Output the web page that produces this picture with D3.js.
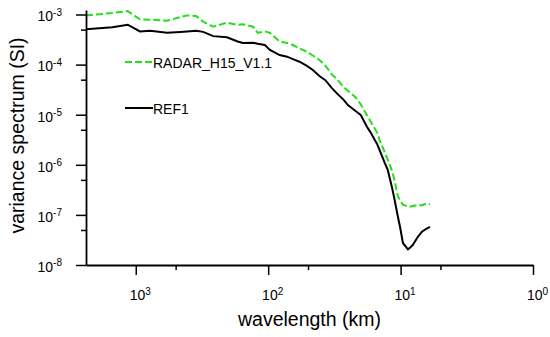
<!DOCTYPE html>
<html>
<head>
<meta charset="utf-8">
<script src="https://cdn.jsdelivr.net/npm/d3@7"></script>
<style>
  body { margin: 0; background: #fff; }
  svg { display: block; font-family: "Liberation Sans", Arial, sans-serif; }
</style>
</head>
<body>
<div id="chart"><svg width="550" height="337"></svg></div>
<script>
// wavelength grid (km), shared by both spectra
var wavelengths = [2376, 1500, 1150, 930, 780, 580, 460, 410, 350, 310, 260, 205, 170, 155, 130, 120, 106, 97, 82, 72,
    65, 58, 51, 46, 41, 37, 33, 30, 27, 25, 22, 20, 18, 17, 15, 14.4, 13.2, 12.5, 11.6, 11.1,
    10.5, 10.1, 9.6, 8.8, 8.5, 8.1, 7.4, 6.9, 6.6, 6.3, 6.0]

var radarValues = [9.6e-4, 1.07e-3, 1.17e-3, 8.0e-4, 7.9e-4, 7.5e-4, 8.9e-4, 9.6e-4, 9.3e-4, 7.2e-4, 5.7e-4, 6.9e-4, 6.2e-4, 6.4e-4, 5.7e-4, 4.3e-4, 4.6e-4, 4.3e-4, 2.9e-4, 2.7e-4,
    2.46e-4, 2.1e-4, 1.81e-4, 1.52e-4, 1.24e-4, 9.5e-5, 6.3e-5, 5.0e-5, 3.6e-5, 3.0e-5, 2.25e-5, 1.62e-5, 9.9e-6, 7.7e-6, 4.3e-6, 3.1e-6, 1.82e-6, 1.27e-6, 7.5e-7, 4.8e-7,
    2.4e-7, 1.95e-7, 1.6e-7, 1.48e-7, 1.46e-7, 1.5e-7, 1.58e-7, 1.55e-7, 1.65e-7, 1.6e-7, 1.65e-7]

var refValues = [5.07e-4, 5.55e-4, 6.25e-4, 4.6e-4, 4.75e-4, 4.3e-4, 4.48e-4, 4.6e-4, 4.75e-4, 4.5e-4, 3.7e-4, 3.51e-4, 2.9e-4, 2.7e-4, 2.74e-4, 2.6e-4, 2.46e-4, 1.96e-4, 1.55e-4, 1.44e-4,
    1.29e-4, 1.14e-4, 9.4e-5, 7.8e-5, 5.9e-5, 4.9e-5, 3.4e-5, 2.6e-5, 2.0e-5, 1.56e-5, 1.2e-5, 9.9e-6, 5.8e-6, 4.6e-6, 2.56e-6, 1.97e-6, 1.1e-6, 7.9e-7, 3.5e-7, 2.0e-7,
    9.4e-8, 5.8e-8, 2.75e-8, 2.06e-8, 2.2e-8, 2.5e-8, 3.67e-8, 4.6e-8, 5.0e-8, 5.4e-8, 5.8e-8]

var seriesNames = ['RADAR_H15_V1.1', 'REF1']

var xMajor = [1000, 100, 10, 1],
    xMinor = [500, 50, 5],
    yMajor = [1e-3, 1e-4, 1e-5, 1e-6, 1e-7, 1e-8],
    yMinor = [5e-4, 5e-5, 5e-6, 5e-7, 5e-8]

function Chart(config){
    var width = config.width,
        height = config.height,
        margin = config.margin,
        svg, x, y

    var innerW = width - margin.left - margin.right,
        innerH = height - margin.top - margin.bottom

    function chart(){
        svg = d3.select('#' + config.id).select('svg')
            .append('g')
            .attr('transform', 'translate(' + margin.left + ',' + margin.top + ')')

        x = d3.scaleLog().domain([2376, 1]).range([0, innerW])
        y = d3.scaleLog().domain([1e-8, 1.23e-3]).range([innerH, 0])

        drawLines()
        drawAxes()
        drawLegend()
    }

    const supLabel = (sel, d) => {
        var p = Math.round(Math.log10(d))
        sel.text(null)
        sel.append('tspan').text('10')
        sel.append('tspan').attr('dy', '-0.55em').attr('font-size', '10px').text(p)
    }

    const styleAxis = g => {
        g.selectAll('.domain').attr('stroke', '#000').attr('stroke-width', 1.8)
        g.selectAll('.tick line').attr('stroke', '#000').attr('stroke-width', 1.5)
        g.selectAll('.tick text').attr('font-size', '14px').attr('font-family', 'Liberation Sans, Arial, sans-serif').attr('fill', '#000')
    }

    const drawAxes = () => {
        // minor ticks first, no labels
        svg.append('g').attr('transform', 'translate(0,' + innerH + ')')
            .call(d3.axisBottom(x).tickValues(xMinor).tickSize(5).tickSizeOuter(0).tickFormat(''))
            .call(styleAxis)
            .select('.domain').remove()
        svg.append('g')
            .call(d3.axisLeft(y).tickValues(yMinor).tickSize(5).tickSizeOuter(0).tickFormat(''))
            .call(styleAxis)
            .select('.domain').remove()

        var xAxis = svg.append('g').attr('transform', 'translate(0,' + innerH + ')')
            .call(d3.axisBottom(x).tickValues(xMajor).tickSize(10).tickSizeOuter(0))
            .call(styleAxis)
        xAxis.selectAll('.tick text').attr('y', 35).attr('dy', 0).attr('dx', '4px').each(function(d){ supLabel(d3.select(this), d) })

        var yAxis = svg.append('g')
            .call(d3.axisLeft(y).tickValues(yMajor).tickSize(10).tickSizeOuter(0).tickPadding(12))
            .call(styleAxis)
        yAxis.selectAll('.tick text').attr('dy', '0.45em').attr('dx', '-2px').each(function(d){ supLabel(d3.select(this), d) })

        svg.append('text')
            .attr('x', innerW / 2).attr('y', innerH + 61)
            .attr('text-anchor', 'middle').attr('font-size', '19.5px')
            .text('wavelength (km)')

        svg.append('text')
            .attr('transform', 'translate(' + (24 - margin.left) + ',' + (innerH / 2 - 2) + ') rotate(-90)')
            .attr('text-anchor', 'middle').attr('font-size', '19.5px')
            .text('variance spectrum (SI)')
    }

    const drawLines = () => {
        var line = vals => d3.line()
            .x((d, i) => x(wavelengths[i]))
            .y(d => y(d))(vals)

        svg.append('path').attr('d', line(refValues))
            .attr('fill', 'none').attr('stroke', '#000').attr('stroke-width', 2)
        svg.append('path').attr('d', line(radarValues))
            .attr('fill', 'none').attr('stroke', '#22e01a').attr('stroke-width', 2)
            .attr('stroke-dasharray', '7,3')
    }

    const drawLegend = () => {
        var items = [
            {name: seriesNames[0], color: '#22e01a', dash: '7,3', y: 52},
            {name: seriesNames[1], color: '#000', dash: null, y: 98}
        ]
        var lg = svg.append('g').attr('transform', 'translate(' + (125 - margin.left) + ',0)')
        items.forEach(it => {
            lg.append('line').attr('x1', 0).attr('x2', 28).attr('y1', it.y).attr('y2', it.y)
                .attr('stroke', it.color).attr('stroke-width', 2).attr('stroke-dasharray', it.dash)
            lg.append('text').attr('x', 28).attr('y', it.y + 5.5).attr('font-size', '14px').text(it.name)
        })
    }

    return chart
}

var myChart = Chart({id: 'chart', width: 550, height: 337, margin: {top: 10, left: 86, right: 17, bottom: 72}})
myChart()
</script>
</body>
</html>
